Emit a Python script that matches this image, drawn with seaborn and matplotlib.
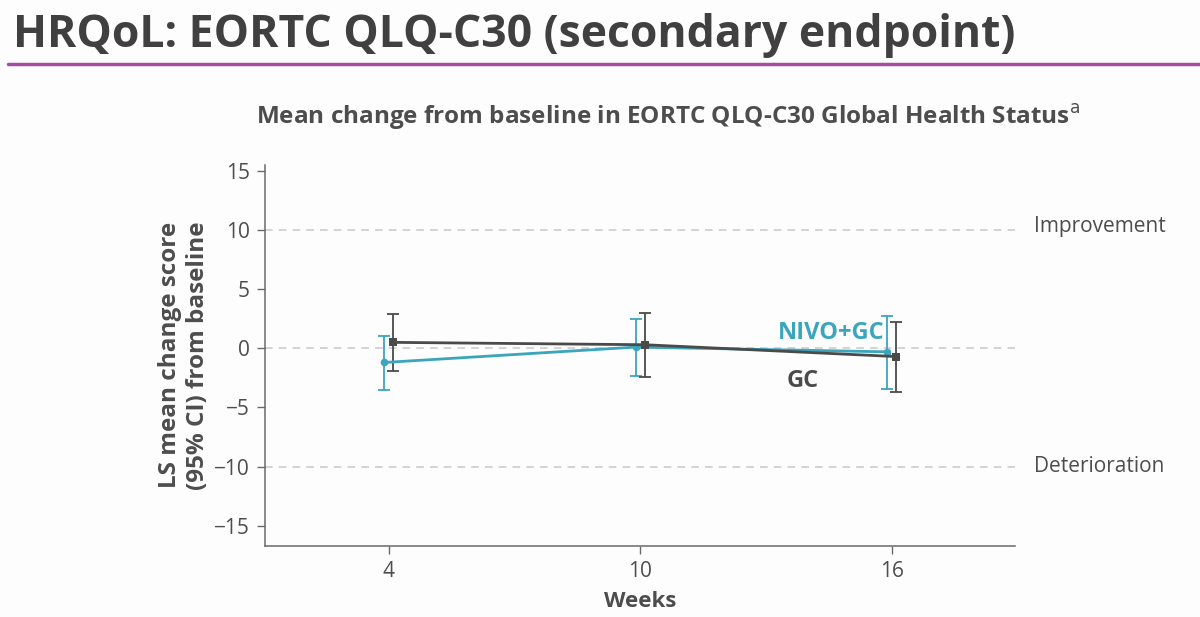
import numpy as np
import pandas as pd
import seaborn as sns
import matplotlib.pyplot as plt
from matplotlib.lines import Line2D

# data
weeks = [4, 10, 16]
nivo_mean = [-1.2, 0.1, -0.3]
nivo_low = [-3.5, -2.3, -3.4]
nivo_high = [1.0, 2.5, 2.7]
gc_mean = [0.5, 0.3, -0.7]
gc_low = [-1.9, -2.4, -3.7]
gc_high = [2.9, 3.0, 2.2]
arms = ['NIVO+GC', 'GC']
ref_lines = [10, 0, -10]
yticks = [-15, -10, -5, 0, 5, 10, 15]

teal = '#3aa5bd'
dark = '#4a4a4a'
txt = '#4d4d4d'

sns.set_style('white')
plt.rcParams['font.family'] = ['Open Sans', 'DejaVu Sans']

fig = plt.figure(figsize=(12, 6.17), dpi=100)
fig.patch.set_facecolor('#fcfdfc')
ax = fig.add_axes([0.221, 0.115, 0.625, 0.618])
ax.set_facecolor('#fcfdfc')

# small horizontal dodge so the two arms don't overlap
shift = 0.11
df = pd.DataFrame({
    'week': np.r_[np.array(weeks) - shift, np.array(weeks) + shift],
    'mean': nivo_mean + gc_mean,
    'low': nivo_low + gc_low,
    'high': nivo_high + gc_high,
    'arm': [arms[0]] * 3 + [arms[1]] * 3,
})

for y in ref_lines:
    ax.axhline(y, color='#c8c8c8', lw=1.1, ls=(0, (5, 4)), zorder=0)

pal = {arms[0]: teal, arms[1]: dark}
mk = {arms[0]: 'o', arms[1]: 's'}
for arm in arms:
    d = df[df['arm'] == arm]
    ax.errorbar(d['week'], d['mean'],
                yerr=[d['mean'] - d['low'], d['high'] - d['mean']],
                fmt='none', ecolor=pal[arm], elinewidth=1.3, capsize=4, capthick=1.3, zorder=2)
sns.lineplot(data=df, x='week', y='mean', hue='arm', style='arm', palette=pal,
             markers=mk, dashes=False, markersize=5.5, markeredgewidth=0,
             linewidth=2, legend=False, ax=ax, zorder=3)

ax.set_xlim(1.05, 18.95)
ax.set_ylim(-16.7, 15.5)
ax.set_xticks(weeks)
ax.set_yticks(yticks)
ax.set_yticklabels([str(v).replace('-', '\u2212') for v in yticks])
ax.tick_params(axis='both', colors='#6a6a6a', labelcolor=txt, labelsize=15,
               length=6, width=1, direction='out', left=True, bottom=True, pad=5)
for s in ['top', 'right']:
    ax.spines[s].set_visible(False)
for s in ['left', 'bottom']:
    ax.spines[s].set_color('#6a6a6a')
    ax.spines[s].set_linewidth(1.1)
ax.spines['left'].set_bounds(-16.7, 15.5)

ax.set_xlabel('Weeks', fontsize=16, fontweight='bold', color=txt, labelpad=6)
ax.set_ylabel('LS mean change score\n(95% CI) from baseline', fontsize=17.5,
              fontweight='bold', color=txt, labelpad=3, linespacing=1.2)

ax.text(1.025, 10.3, 'Improvement', transform=ax.get_yaxis_transform(),
        fontsize=15, color=txt, va='center', ha='left')
ax.text(1.025, -10, 'Deterioration', transform=ax.get_yaxis_transform(),
        fontsize=15, color=txt, va='center', ha='left')
ax.text(14.55, 1.25, 'NIVO+GC', fontsize=17, fontweight='bold', color=teal, ha='center', va='center')
ax.text(13.88, -2.8, 'GC', fontsize=17, fontweight='bold', color=dark, ha='center', va='center')

fig.text(0.011, 0.943, 'HRQoL: EORTC QLQ-C30 (secondary endpoint)', fontsize=32,
         fontweight='bold', color='#404040', ha='left', va='center')
fig.add_artist(Line2D([0.007, 1.0], [0.897, 0.897], color='#a64ca6', lw=2.5))
fig.text(0.557, 0.81, 'Mean change from baseline in EORTC QLQ-C30 Global Health Status$^{\\mathrm{a}}$',
         fontsize=17.5, fontweight='bold', color=txt, ha='center', va='center')

fig.savefig('out.png', dpi=100, facecolor=fig.get_facecolor())
